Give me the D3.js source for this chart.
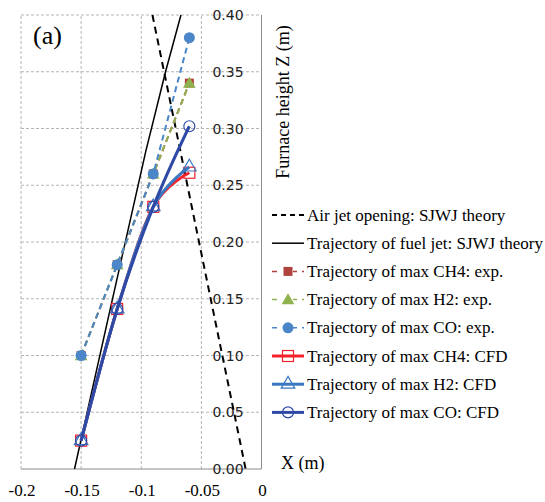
<html>
<head>
    <script src="https://d3js.org/d3.v7.min.js"></script>
    <style>
        body { margin: 0; background: #fff; }
    </style>
</head>
<body></body>
<script>

    // data
    var xExp = [-0.15, -0.12, -0.09, -0.06];
    var ch4Exp = [0.10, 0.18, 0.26, 0.34];
    var h2Exp = [0.10, 0.18, 0.26, 0.34];
    var coExp = [0.10, 0.18, 0.26, 0.38];

    var xCfd = [-0.15, -0.12, -0.09, -0.06];
    var ch4Cfd = [0.025, 0.141, 0.231, 0.261];
    var h2Cfd = [0.025, 0.141, 0.231, 0.266];
    var coCfd = [0.025, 0.141, 0.231, 0.302];

    // SJWJ theory lines
    var airJetX = [-0.0907, -0.0132];
    var airJetZ = [0.40, 0.00];
    var fuelJetX = [-0.1555, -0.126, -0.0962, -0.0798, -0.067];
    var fuelJetZ = [0.00, 0.14, 0.28, 0.35, 0.40];

    var xTicks = [-0.2, -0.15, -0.1, -0.05, 0];
    var xTickLabels = ["-0.2", "-0.15", "-0.1", "-0.05", "0"];
    var yTicks = [0, 0.05, 0.10, 0.15, 0.20, 0.25, 0.30, 0.35, 0.40];

    var legendLabels = [
        "Air jet opening: SJWJ theory",
        "Trajectory of fuel jet: SJWJ theory",
        "Trajectory of max CH4: exp.",
        "Trajectory of max H2: exp.",
        "Trajectory of max CO: exp.",
        "Trajectory of max CH4: CFD",
        "Trajectory of max H2: CFD",
        "Trajectory of max CO: CFD"
    ];

    var svg = d3.select("body")
        .append("svg")
        .attr("width", 545)
        .attr("height", 502);

    var x = d3.scaleLinear().domain([-0.2, 0]).range([21, 261.5]);
    var y = d3.scaleLinear().domain([0, 0.4]).range([469, 15]);

    var serif = "'Liberation Serif', 'Times New Roman', serif";

    // grid
    svg.append("g")
        .selectAll("line")
        .data(xTicks.slice(0, 4))
        .enter()
        .append("line")
        .attr("x1", d => x(d)).attr("x2", d => x(d))
        .attr("y1", y(0)).attr("y2", y(0.4))
        .attr("stroke", "#b5b5b5")
        .attr("stroke-width", 1)
        .attr("stroke-dasharray", "3,2");

    svg.append("g")
        .selectAll("line")
        .data(yTicks.slice(1))
        .enter()
        .append("line")
        .attr("x1", x(-0.2)).attr("x2", x(0))
        .attr("y1", d => y(d)).attr("y2", d => y(d))
        .attr("stroke", "#b5b5b5")
        .attr("stroke-width", 1)
        .attr("stroke-dasharray", "3,2");

    // axes lines
    svg.append("line")
        .attr("x1", x(-0.2)).attr("x2", x(0))
        .attr("y1", y(0)).attr("y2", y(0))
        .attr("stroke", "#8c8c8c");
    svg.append("line")
        .attr("x1", x(0)).attr("x2", x(0))
        .attr("y1", y(0)).attr("y2", y(0.4))
        .attr("stroke", "#8c8c8c");

    // x tick labels
    svg.append("g")
        .selectAll("text")
        .data(xTicks)
        .enter()
        .append("text")
        .attr("x", d => x(d) + 1)
        .attr("y", 496)
        .attr("text-anchor", "middle")
        .style("font-family", serif)
        .style("font-size", "17px")
        .text((d, i) => xTickLabels[i]);

    // y tick labels (inside, left of the axis at x=0)
    svg.append("g")
        .selectAll("text")
        .data(yTicks)
        .enter()
        .append("text")
        .attr("x", 228)
        .attr("y", d => y(d))
        .attr("dy", "0.36em")
        .attr("text-anchor", "middle")
        .style("font-family", "'DejaVu Sans', Verdana, sans-serif")
        .style("font-size", "14px")
        .style("fill", "#222")
        .text(d => d.toFixed(2));

    // axis titles
    svg.append("text")
        .attr("transform", "translate(289,102) rotate(-90)")
        .attr("text-anchor", "middle")
        .style("font-family", serif)
        .style("font-size", "18px")
        .text("Furnace height Z (m)");

    svg.append("text")
        .attr("x", 281)
        .attr("y", 469)
        .style("font-family", serif)
        .style("font-size", "18px")
        .text("X (m)");

    svg.append("text")
        .attr("x", 33)
        .attr("y", 44)
        .style("font-family", serif)
        .style("font-size", "26px")
        .text("(a)");

    // theory lines
    var plain = d3.line().x(d => x(d[0])).y(d => y(d[1]));

    svg.append("path")
        .attr("d", plain(d3.zip(airJetX, airJetZ)))
        .attr("fill", "none")
        .attr("stroke", "#000")
        .attr("stroke-width", 2)
        .attr("stroke-dasharray", "7,5");

    svg.append("path")
        .attr("d", plain(d3.zip(fuelJetX, fuelJetZ)))
        .attr("fill", "none")
        .attr("stroke", "#000")
        .attr("stroke-width", 1.5);

    // experimental series
    var expSeries = [
        { vals: ch4Exp, color: "#b0423d", marker: "square" },
        { vals: h2Exp, color: "#8fb24f", marker: "triangle" },
        { vals: coExp, color: "#4a86c8", marker: "circle" }
    ];
    var cfdSeries = [
        { vals: ch4Cfd, color: "#f5222b", marker: "square" },
        { vals: h2Cfd, color: "#3b78c2", marker: "triangle" },
        { vals: coCfd, color: "#2e4aa6", marker: "circle" }
    ];

    function drawMarker(g, type, cx, cy, color, filled) {
        var m;
        if (type == "square") {
            var s = filled ? 9 : 11;
            m = g.append("rect")
                .attr("x", cx - s / 2).attr("y", cy - s / 2)
                .attr("width", s).attr("height", s);
        } else if (type == "triangle") {
            var sym = d3.symbol().type(d3.symbolTriangle).size(filled ? 70 : 80);
            m = g.append("path")
                .attr("d", sym())
                .attr("transform", "translate(" + cx + "," + (cy + (filled ? 1 : 0)) + ")");
        } else {
            m = g.append("circle")
                .attr("cx", cx).attr("cy", cy)
                .attr("r", filled ? 5.5 : 5.5);
        }
        if (filled) {
            m.attr("fill", color).attr("stroke", "none");
        } else {
            m.attr("fill", "none").attr("stroke", color).attr("stroke-width", 1.2);
        }
    }

    expSeries.forEach(function (s) {
        var pts = d3.zip(xExp, s.vals);
        svg.append("path")
            .attr("d", plain(pts))
            .attr("fill", "none")
            .attr("stroke", s.color)
            .attr("stroke-width", 2)
            .attr("stroke-dasharray", "6,4");
        var g = svg.append("g");
        pts.forEach(function (p) {
            drawMarker(g, s.marker, x(p[0]), y(p[1]), s.color, true);
        });
    });

    // CFD series (smoothed)
    var smooth = d3.line().x(d => x(d[0])).y(d => y(d[1])).curve(d3.curveCatmullRom.alpha(0));
    cfdSeries.forEach(function (s) {
        var pts = d3.zip(xCfd, s.vals);
        svg.append("path")
            .attr("d", smooth(pts))
            .attr("fill", "none")
            .attr("stroke", s.color)
            .attr("stroke-width", 3);
        var g = svg.append("g");
        pts.forEach(function (p) {
            drawMarker(g, s.marker, x(p[0]), y(p[1]), s.color, false);
        });
    });

    // legend
    var legY0 = 215, legStep = 28.2;
    var legend = svg.append("g");
    var legStyles = [
        { color: "#000", width: 2, dash: "5,4", marker: null },
        { color: "#000", width: 1.5, dash: null, marker: null },
        { color: expSeries[0].color, width: 1.5, dash: "5,5", marker: "square", filled: true },
        { color: expSeries[1].color, width: 1.5, dash: "5,5", marker: "triangle", filled: true },
        { color: expSeries[2].color, width: 1.5, dash: "5,5", marker: "circle", filled: true },
        { color: cfdSeries[0].color, width: 3, dash: null, marker: "square", filled: false },
        { color: cfdSeries[1].color, width: 3, dash: null, marker: "triangle", filled: false },
        { color: cfdSeries[2].color, width: 3, dash: null, marker: "circle", filled: false }
    ];

    legendLabels.forEach(function (lab, i) {
        var ly = legY0 + i * legStep;
        var st = legStyles[i];
        var ln = legend.append("line")
            .attr("x1", 272).attr("x2", 304)
            .attr("y1", ly).attr("y2", ly)
            .attr("stroke", st.color)
            .attr("stroke-width", st.width);
        if (st.dash) ln.attr("stroke-dasharray", st.dash);
        if (st.marker) {
            if (st.filled) {
                legend.append("rect")
                    .attr("x", 281).attr("y", ly - 7).attr("width", 12).attr("height", 14)
                    .attr("fill", "#fff");
            }
            drawMarker(legend, st.marker, 288, ly, st.color, st.filled);
        }
        legend.append("text")
            .attr("x", 307)
            .attr("y", ly)
            .attr("dy", "0.33em")
            .style("font-family", serif)
            .style("font-size", "17px")
            .text(lab);
    });

</script>
</html>
